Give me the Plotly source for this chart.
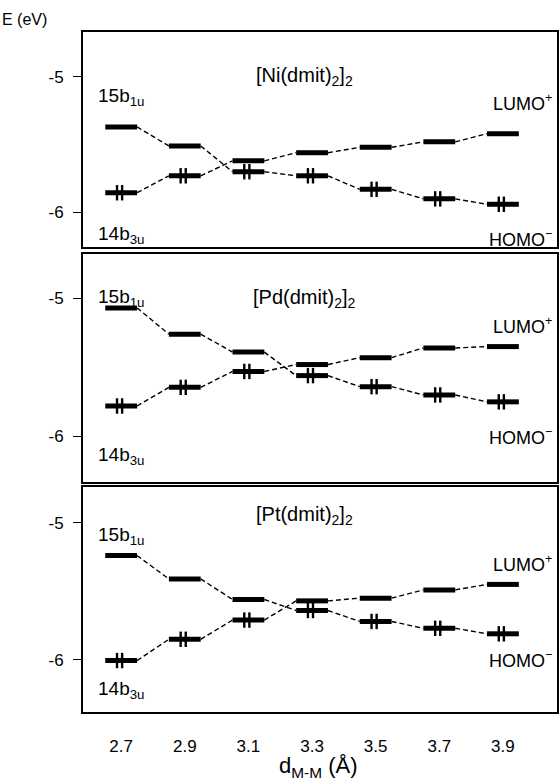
import plotly.graph_objects as go

# ---- data ----
d_mm = [2.7, 2.9, 3.1, 3.3, 3.5, 3.7, 3.9]
x_ticks = ["2.7", "2.9", "3.1", "3.3", "3.5", "3.7", "3.9"]

ni_b1u = [-5.37, -5.51, -5.70, -5.73, -5.83, -5.90, -5.94]
ni_b3u = [-5.855, -5.73, -5.62, -5.56, -5.52, -5.48, -5.42]
ni_b1u_occ = [0, 0, 1, 1, 1, 1, 1]

pd_b1u = [-5.07, -5.26, -5.39, -5.56, -5.64, -5.70, -5.75]
pd_b3u = [-5.78, -5.645, -5.53, -5.48, -5.43, -5.36, -5.35]
pd_b1u_occ = [0, 0, 0, 1, 1, 1, 1]

pt_b1u = [-5.24, -5.41, -5.56, -5.64, -5.72, -5.77, -5.81]
pt_b3u = [-6.005, -5.85, -5.71, -5.57, -5.55, -5.49, -5.45]
pt_b1u_occ = [0, 0, 0, 1, 1, 1, 1]

panels = [
    ("[Ni(dmit)<sub>2</sub>]<sub>2</sub>", ni_b1u, ni_b3u, ni_b1u_occ),
    ("[Pd(dmit)<sub>2</sub>]<sub>2</sub>", pd_b1u, pd_b3u, pd_b1u_occ),
    ("[Pt(dmit)<sub>2</sub>]<sub>2</sub>", pt_b1u, pt_b3u, pt_b1u_occ),
]

W, H = 560, 784
FONT = "Liberation Sans, Arial, Helvetica, sans-serif"
HALF = 0.05  # half width of a level bar (Angstrom)

# panel boxes in pixels (top, bottom) and y ranges
boxes_px = [(32, 247), (254, 482), (487, 712)]
yranges = [[-6.255, -4.67], [-6.33, -4.68], [-6.38, -4.74]]
x_left_px, x_right_px = 83, 557
xrange_ = [2.58, 4.07]

fig = go.Figure()
layout = dict(
    width=W, height=H, margin=dict(l=0, r=0, t=0, b=0),
    paper_bgcolor="white", plot_bgcolor="white", showlegend=False,
    font=dict(family=FONT, size=18, color="black"),
)

annotations = []
for i, (title, b1u, b3u, occ) in enumerate(panels):
    k = "" if i == 0 else str(i + 1)
    xa, ya = "x" + k, "y" + k
    top, bot = boxes_px[i]
    layout["xaxis" + k] = dict(
        domain=[x_left_px / W, x_right_px / W], range=xrange_,
        showline=True, mirror=True, linecolor="black", linewidth=1.8,
        showgrid=False, zeroline=False, ticks="",
        tickvals=d_mm, ticktext=x_ticks,
        showticklabels=(i == 2), ticklabelstandoff=18,
        tickfont=dict(size=17), anchor=ya,
    )
    layout["yaxis" + k] = dict(
        domain=[1 - bot / H, 1 - top / H], range=yranges[i],
        showline=True, mirror=True, linecolor="black", linewidth=1.8,
        showgrid=False, zeroline=False, ticks="outside", ticklen=8,
        tickwidth=1.3, tickcolor="black", ticklabelstandoff=6,
        tickvals=[-5, -6], ticktext=["-5", "-6"], tickfont=dict(size=17),
        anchor=xa,
    )
    for series, occ_flags in ((b1u, occ), (b3u, [1 - o for o in occ])):
        # dashed connectors
        cx, cy = [], []
        for j in range(len(d_mm) - 1):
            cx += [d_mm[j] + HALF, d_mm[j + 1] - HALF, None]
            cy += [series[j], series[j + 1], None]
        fig.add_trace(go.Scatter(x=cx, y=cy, mode="lines", xaxis=xa, yaxis=ya,
                                 line=dict(color="black", width=1.4, dash="5px,3px"),
                                 hoverinfo="skip"))
        # level bars
        bx, by = [], []
        for xv, yv in zip(d_mm, series):
            bx += [xv - HALF, xv + HALF, None]
            by += [yv, yv, None]
        fig.add_trace(go.Scatter(x=bx, y=by, mode="lines", xaxis=xa, yaxis=ya,
                                 line=dict(color="black", width=5), hoverinfo="skip"))
        # electron pairs
        ex, ey = [], []
        for xv, yv, o in zip(d_mm, series, occ_flags):
            if o:
                ex += [xv - 0.013, xv + 0.003]
                ey += [yv, yv]
        fig.add_trace(go.Scatter(x=ex, y=ey, mode="markers", xaxis=xa, yaxis=ya,
                                 marker=dict(symbol="line-ns", size=11,
                                             line=dict(color="black", width=2.4)),
                                 hoverinfo="skip"))

    tpos = [-5.0, -5.0, -4.95][i]
    annotations.append(dict(text=title, x=3.275, y=tpos, xref=xa, yref=ya,
                            showarrow=False, font=dict(size=20)))
    annotations.append(dict(text="15b<sub>1u</sub>", x=2.62, y=[-5.15, -5.0, -5.1][i],
                            xref=xa, yref=ya, xanchor="left", showarrow=False,
                            font=dict(size=19)))
    annotations.append(dict(text="14b<sub>3u</sub>", x=2.62, y=[-6.17, -6.14, -6.22][i],
                            xref=xa, yref=ya, xanchor="left", showarrow=False,
                            font=dict(size=19)))
    annotations.append(dict(text="LUMO<sup>+</sup>", x=4.062, y=[-5.19, -5.2, -5.3][i],
                            xref=xa, yref=ya, xanchor="right", showarrow=False))
    annotations.append(dict(text="HOMO<sup>\u2212</sup>", x=4.062, y=[-6.19, -6.0, -6.0][i],
                            xref=xa, yref=ya, xanchor="right", showarrow=False))

annotations.append(dict(text="E (eV)", x=0, y=1 - 20 / H, xref="paper", yref="paper",
                        xanchor="left", yanchor="middle", showarrow=False,
                        font=dict(size=16)))
annotations.append(dict(text="d<sub>M-M</sub> (\u00c5)", x=318 / W, y=1 - 783 / H,
                        xref="paper", yref="paper", xanchor="center", yanchor="bottom",
                        showarrow=False, font=dict(size=22)))
layout["annotations"] = annotations
fig.update_layout(**layout)
fig.write_html("out.html")
